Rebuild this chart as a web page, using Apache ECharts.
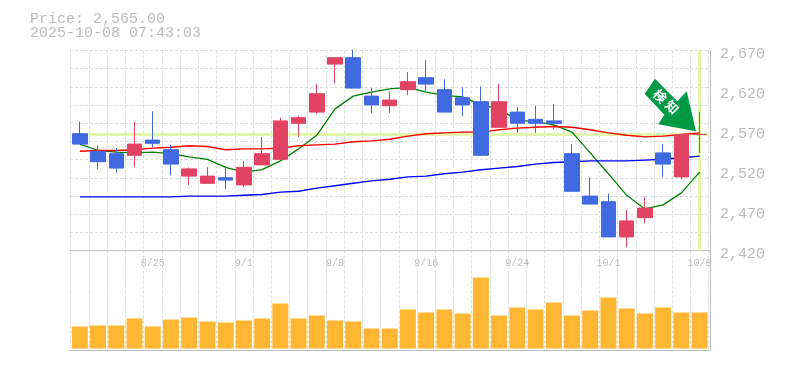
<!DOCTYPE html>
<html><head><meta charset="utf-8">
<style>html,body{margin:0;padding:0;background:#fff}#c{width:785px;height:370px}</style>
<script src="https://cdn.jsdelivr.net/npm/echarts@6/dist/echarts.min.js"></script>
</head><body><div id="c"></div>
<script>
const titleLines = ['Price: 2,565.00', '2025-10-08 07:43:03'];
const currentPrice = 2565;
const priceTicks = [2420, 2470, 2520, 2570, 2620, 2670];
const dates = ['8/19','8/20','8/21','8/22','8/25','8/26','8/27','8/28','8/29','9/1','9/2','9/3','9/4','9/5','9/8','9/9','9/10','9/11','9/12','9/16','9/17','9/18','9/19','9/22','9/24','9/25','9/26','9/29','9/30','10/1','10/2','10/3','10/6','10/7','10/8'];
// [open, close, low, high]
const candles = [
[2566,2553,2553,2581],[2544,2531,2522,2551],[2541,2523,2517,2548],[2539,2553,2524,2581],[2558,2554,2549,2594],
[2546,2528,2514,2552],[2513,2522,2502,2524],[2504,2513,2504,2524],[2511,2508,2497,2526],[2502,2524,2499,2532],
[2527,2541,2527,2562],[2534,2582,2534,2586],[2579,2586,2562,2588],[2593,2616,2591,2628],[2653,2661,2629,2661],
[2661,2623,2623,2671],[2613,2602,2592,2623],[2601,2608,2592,2619],[2621,2631,2614,2643],[2636,2628,2618,2658],
[2621,2593,2593,2634],[2611,2602,2588,2624],[2606,2539,2539,2625],[2574,2606,2574,2628],[2593,2579,2567,2599],
[2584,2579,2567,2601],[2582,2579,2572,2603],[2541,2494,2494,2553],[2488,2478,2478,2512],[2481,2437,2437,2491],
[2437,2457,2424,2471],[2461,2473,2454,2487],[2542,2528,2512,2553],[2512,2565,2509,2565],[2565,2565,2542,2593]
];
const maGreen = [2553,2545,2543,2542,2543,2541,2537,2534,2524,2518,2521,2532,2547,2564,2597,2613,2618,2622,2624,2618,2614,2612,2602,2597,2583,2581,2577,2568,2542,2516,2489,2472,2477,2492,2518];
const maRed = [2544,2545,2545,2546,2548,2549,2551,2550,2546,2547,2547,2548,2551,2552,2553,2556,2557,2559,2563,2566,2567,2568,2568,2571,2573,2574,2575,2574,2571,2567,2564,2562,2563,2565,2567];
const maBlue = [2487,2487,2487,2487,2487,2487,2488,2488,2488,2489,2490,2493,2494,2498,2501,2504,2507,2509,2512,2513,2516,2518,2521,2523,2525,2528,2530,2531,2532,2532,2532,2533,2534,2536,2538];
const volumes = [22,23,23,30,22,29,31,27,26,28,30,45,30,33,28,27,20,20,39,36,39,35,71,33,41,39,46,33,38,51,40,35,41,36,36];
const arrowText = '検知';

const FONT = '"Liberation Mono", monospace';
const GRAY = '#bcbcbc', FRAME = '#c0c0c0', DASH = '#dcdcdc', LIME = '#e4f6ac';
const dashed = {show:true, lineStyle:{color:DASH, type:[3,2], width:1}};
const arrow = [[655,78.7],[644.7,93.7],[664.3,114.7],[658.3,124.3],[696,131.3],[686.7,91.3],[677.3,101.3]];
const hiddenAxis = {axisLine:{show:false}, axisTick:{show:false}, axisLabel:{show:false}, splitLine:{show:false}};

const chart = echarts.init(document.getElementById('c'), null, {renderer:'canvas'});
chart.setOption({
  animation:false, backgroundColor:'#fff',
  title:{text:titleLines.join('\n'), left:25, top:7, textStyle:{fontFamily:FONT, fontSize:15, lineHeight:14, fontWeight:'normal', color:GRAY}},
  grid:[
    {left:70.7, top:50.5, width:638, height:200},
    {left:70.7, top:250.5, width:638, height:100},
    {left:70, top:50.5, width:640, height:200},
    {left:70, top:250.5, width:640, height:100},
    {left:70, top:54.5, width:640, height:200}
  ],
  xAxis:[
    {type:'category', gridIndex:0, data:dates, boundaryGap:true, axisLine:{show:false}, axisTick:{show:false}, axisLabel:{show:false}, splitLine:{...dashed, interval:0}},
    {type:'category', gridIndex:1, data:dates, position:'top', boundaryGap:true, axisLine:{show:false}, axisTick:{show:false},
      axisLabel:{inside:true, margin:8, interval:(i)=>i%5===4, showMaxLabel:true, fontFamily:FONT, fontSize:10, color:GRAY, hideOverlap:false}, splitLine:{...dashed, interval:0}},
    {type:'value', gridIndex:2, min:0, max:1, axisLine:{show:true, onZero:false, lineStyle:{color:FRAME, width:1}}, axisTick:{show:false}, axisLabel:{show:false}, splitLine:{show:false}},
    {type:'value', gridIndex:3, min:0, max:1, axisLine:{show:true, onZero:false, lineStyle:{color:FRAME, width:1}}, axisTick:{show:false}, axisLabel:{show:false}, splitLine:{show:false}},
    {type:'value', gridIndex:4, min:0, max:1, ...hiddenAxis}
  ],
  yAxis:[
    {type:'value', gridIndex:0, min:2420, max:2670, ...hiddenAxis},
    {type:'value', gridIndex:1, min:-2, max:98, ...hiddenAxis},
    {type:'value', gridIndex:2, position:'right', min:0, max:11, interval:1, axisLine:{show:true, onZero:false, lineStyle:{color:FRAME, width:1}}, axisTick:{show:false}, axisLabel:{show:false}, splitLine:dashed},
    {type:'value', gridIndex:3, position:'right', min:0, max:1, axisLine:{show:true, onZero:false, lineStyle:{color:FRAME, width:1}}, axisTick:{show:false}, axisLabel:{show:false}, splitLine:{show:false}},
    {type:'value', gridIndex:4, position:'right', min:2420, max:2670, axisLine:{show:false}, axisTick:{show:false}, splitLine:{show:false},
      axisLabel:{customValues:priceTicks, margin:10, fontFamily:FONT, fontSize:15, color:GRAY, formatter:(v)=>v.toLocaleString('en-US')}}
  ],
  series:[
    {type:'line', xAxisIndex:0, yAxisIndex:0, data:[], z:1, silent:true,
      markLine:{silent:true, symbol:'none', label:{show:false}, z:1, animation:false, lineStyle:{color:LIME, width:3, type:'solid'},
        data:[{yAxis:currentPrice}, {xAxis:dates.length-1}]}},
    {type:'line', name:'green', xAxisIndex:0, yAxisIndex:0, data:maGreen, z:2, symbol:'none', lineStyle:{color:'#008000', width:1.3}},
    {type:'line', name:'red', xAxisIndex:0, yAxisIndex:0, data:maRed, z:2, symbol:'none', lineStyle:{color:'#ff0000', width:1.4}},
    {type:'line', name:'blue', xAxisIndex:0, yAxisIndex:0, data:maBlue, z:2, symbol:'none', lineStyle:{color:'#0000ff', width:1.4}},
    {type:'candlestick', xAxisIndex:0, yAxisIndex:0, data:candles, z:3, barWidth:15,
      itemStyle:{color:'#e24363', color0:'#4169e1', borderColor:'#e24363', borderColor0:'#4169e1', borderColorDoji:'#e24363', borderWidth:1}},
    {type:'bar', xAxisIndex:1, yAxisIndex:1, data:volumes, barWidth:16, z:3, itemStyle:{color:'#ffb733'}}
  ],
  graphic:[
    {type:'polygon', z:20, shape:{points:arrow}, style:{fill:'#009944'}},
    {type:'text', z:21, x:660, y:96, rotation:-Math.PI/4, style:{text:arrowText[0], font:'bold 13px "Noto Sans CJK JP"', fill:'#fff', align:'center', verticalAlign:'middle'}},
    {type:'text', z:21, x:672, y:107, rotation:-Math.PI/4, style:{text:arrowText[1], font:'bold 13px "Noto Sans CJK JP"', fill:'#fff', align:'center', verticalAlign:'middle'}}
  ]
});
</script></body></html>
